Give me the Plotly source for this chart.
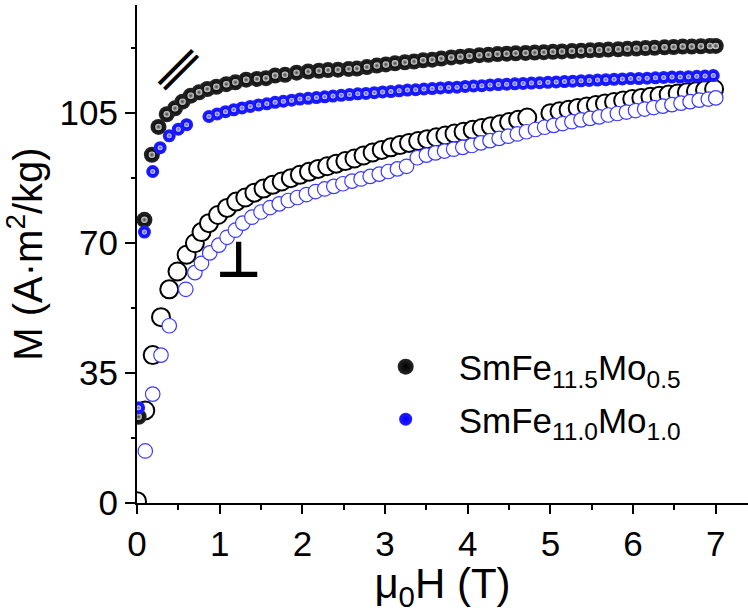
import plotly.graph_objects as go

# ---------------- data ----------------
# parallel field, SmFe11.5Mo0.5 (filled black spheres)
h_par_a = [0.02, 0.09, 0.18, 0.26, 0.36, 0.46, 0.55, 0.65, 0.75, 0.85,
           0.96, 1.08, 1.19, 1.32, 1.45, 1.56, 1.67, 1.79, 1.93, 2.07,
           2.2, 2.31, 2.43, 2.56, 2.66, 2.78, 2.9, 3.01, 3.12, 3.24,
           3.35, 3.46, 3.57, 3.68, 3.8, 3.91, 4.02, 4.14, 4.25, 4.36,
           4.47, 4.58, 4.7, 4.81, 4.92, 5.03, 5.14, 5.26, 5.37, 5.48,
           5.59, 5.7, 5.82, 5.93, 6.04, 6.15, 6.26, 6.38, 6.49, 6.6,
           6.71, 6.82, 6.93, 7.0]
m_par_a = [23.2, 76.2, 93.7, 101.2, 104.6, 106.2, 108.0, 109.6, 110.5, 111.4,
           112.0, 112.7, 113.2, 113.9, 114.1, 114.3, 115.0, 115.2, 115.8, 116.1,
           116.3, 116.5, 116.6, 116.8, 116.9, 117.3, 117.7, 118.0, 118.3, 118.6,
           118.8, 119.1, 119.3, 119.6, 119.9, 120.1, 120.3, 120.5, 120.6, 120.8,
           120.9, 121.0, 121.1, 121.2, 121.3, 121.4, 121.5, 121.6, 121.7, 121.8,
           121.9, 122.0, 122.1, 122.2, 122.3, 122.4, 122.5, 122.6, 122.7, 122.8,
           122.8, 122.9, 123.0, 123.0]

# parallel field, SmFe11.0Mo1.0 (filled blue spheres)
h_par_b = [0.02, 0.09, 0.19, 0.28, 0.39, 0.5, 0.6,
           0.87, 0.97, 1.07, 1.17, 1.27, 1.37, 1.47, 1.57, 1.67, 1.77,
           1.87, 1.97, 2.07, 2.17, 2.27, 2.37, 2.47, 2.57, 2.67, 2.77,
           2.87, 2.97, 3.07, 3.17, 3.27, 3.37, 3.47, 3.57, 3.67, 3.77,
           3.87, 3.97, 4.07, 4.17, 4.27, 4.37, 4.47, 4.57, 4.67, 4.77,
           4.87, 4.97, 5.07, 5.17, 5.27, 5.37, 5.47, 5.57, 5.67, 5.77,
           5.87, 5.97, 6.07, 6.17, 6.27, 6.37, 6.47, 6.57, 6.67, 6.77,
           6.87, 6.97]
m_par_b = [25.6, 72.9, 89.2, 95.6, 98.8, 100.6, 101.8,
           104.0, 104.7, 105.3, 105.8, 106.3, 106.7, 107.1, 107.4, 107.8, 108.1,
           108.4, 108.7, 108.9, 109.1, 109.3, 109.5, 109.7, 109.9, 110.1, 110.2,
           110.4, 110.6, 110.7, 110.9, 111.1, 111.2, 111.4, 111.5, 111.7, 111.8,
           111.9, 112.1, 112.2, 112.3, 112.5, 112.6, 112.7, 112.8, 112.9, 113.0,
           113.1, 113.2, 113.3, 113.4, 113.5, 113.6, 113.7, 113.8, 113.9, 114.0,
           114.1, 114.2, 114.2, 114.3, 114.4, 114.5, 114.6, 114.6, 114.7, 114.8,
           114.9, 115.0]

# perpendicular field, SmFe11.5Mo0.5 (open black circles)
h_perp_a = [0.0, 0.1, 0.19, 0.29, 0.39, 0.49, 0.6, 0.7, 0.78, 0.87,
            0.98, 1.09, 1.2, 1.31, 1.42, 1.53, 1.64, 1.75, 1.86, 1.97,
            2.08, 2.19, 2.3, 2.41, 2.52, 2.63, 2.74, 2.85, 2.96, 3.07,
            3.18, 3.29, 3.4, 3.51, 3.62, 3.73, 3.84, 3.95, 4.06, 4.17,
            4.28, 4.39, 4.5, 4.61, 4.72,
            5.0, 5.11, 5.22, 5.33, 5.44, 5.55, 5.66, 5.77, 5.88, 5.99,
            6.1, 6.21, 6.32, 6.43, 6.54, 6.65, 6.76, 6.87, 6.98]
m_perp_a = [0.5, 24.9, 39.8, 50.0, 57.5, 62.3, 66.8, 69.9, 72.9, 75.3,
            77.5, 79.4, 81.1, 82.2, 83.5, 84.6, 85.6, 86.5, 87.4, 88.3,
            89.1, 89.9, 90.6, 91.3, 92.0, 92.7, 93.5, 94.3, 95.0, 95.7,
            96.3, 96.9, 97.4, 97.9, 98.4, 98.9, 99.4, 99.9, 100.4, 100.9,
            101.4, 101.9, 102.5, 103.1, 103.7,
            104.9, 105.4, 105.8, 106.3, 106.7, 107.1, 107.5, 107.9, 108.3, 108.7,
            109.0, 109.3, 109.6, 109.9, 110.2, 110.5, 110.8, 111.1, 111.4]

# perpendicular field, SmFe11.0Mo1.0 (open blue circles)
h_perp_b = [0.1, 0.19, 0.29, 0.39, 0.59, 0.7, 0.78, 0.88, 0.99, 1.09,
            1.19, 1.28, 1.39, 1.5, 1.61, 1.72, 1.83, 1.94, 2.05, 2.16,
            2.27, 2.38, 2.49, 2.6, 2.71, 2.82, 2.93, 3.04, 3.15, 3.26,
            3.39, 3.5, 3.61, 3.72, 3.83, 3.94, 4.05, 4.16, 4.27, 4.38,
            4.49, 4.6, 4.71, 4.82, 4.93, 5.04, 5.15, 5.26, 5.37, 5.48,
            5.59, 5.7, 5.81, 5.92, 6.03, 6.14, 6.25, 6.36, 6.47, 6.58,
            6.69, 6.8, 6.91, 7.0]
m_perp_b = [14.0, 29.3, 39.8, 47.7, 57.5, 62.0, 64.5, 67.3, 69.4, 71.5,
            73.4, 75.3, 76.9, 78.3, 79.5, 80.5, 81.4, 82.2, 83.0, 83.8,
            84.5, 85.2, 85.9, 86.6, 87.2, 87.9, 88.5, 89.2, 89.9, 90.6,
            92.9, 93.6, 94.2, 94.7, 95.2, 95.7, 96.2, 96.9, 97.5, 98.1,
            98.7, 99.3, 99.9, 100.5, 101.1, 101.6, 102.1, 102.6, 103.1, 103.5,
            103.9, 104.4, 104.8, 105.2, 105.6, 106.0, 106.4, 106.8, 107.2, 107.6,
            108.0, 108.4, 108.7, 109.0]

name_a = "SmFe<sub>11.5</sub>Mo<sub>0.5</sub>"
name_b = "SmFe<sub>11.0</sub>Mo<sub>1.0</sub>"
x_tickvals = [0, 1, 2, 3, 4, 5, 6, 7]
x_top_tickvals = [0, 0.5, 1, 1.5, 2, 2.5, 3, 3.5, 4, 4.5, 5, 5.5, 6, 6.5, 7]
y_tickvals = [0, 35, 70, 105]
x_range = [0, 7.39]
y_range = [0, 134]

FONT = "Liberation Sans, Arial, sans-serif"

fig = go.Figure()

# open circles (perpendicular)
fig.add_trace(go.Scatter(
    x=h_perp_a, y=m_perp_a, mode="markers", showlegend=False,
    marker=dict(symbol="circle", size=18, color="white",
                line=dict(color="black", width=2)),
    hoverinfo="skip"))
fig.add_trace(go.Scatter(
    x=h_perp_b, y=m_perp_b, mode="markers", showlegend=False,
    marker=dict(symbol="circle", size=14.5, color="white",
                line=dict(color="#3a3aff", width=1.2)),
    hoverinfo="skip"))

# filled spheres (parallel)
fig.add_trace(go.Scatter(
    x=h_par_a, y=m_par_a, mode="markers", name=name_a,
    legendgroup="a",
    marker=dict(symbol="circle", size=16, color="#262626",
                gradient=dict(type="radial", color="black"),
                line=dict(width=0)),
    hoverinfo="skip"))
fig.add_trace(go.Scatter(
    x=h_par_a, y=m_par_a, mode="markers", showlegend=False,
    legendgroup="a",
    marker=dict(symbol="circle", size=6.5, color="#d8d8d8",
                gradient=dict(type="radial", color="#3c3c3c"),
                line=dict(width=0)),
    hoverinfo="skip"))
fig.add_trace(go.Scatter(
    x=h_par_b, y=m_par_b, mode="markers", name=name_b,
    legendgroup="b",
    marker=dict(symbol="circle", size=13, color="#2222ff",
                gradient=dict(type="radial", color="#0000ff"),
                line=dict(width=0)),
    hoverinfo="skip"))
fig.add_trace(go.Scatter(
    x=h_par_b, y=m_par_b, mode="markers", showlegend=False,
    legendgroup="b",
    marker=dict(symbol="circle", size=5, color="#dcdcff",
                gradient=dict(type="radial", color="#4a4aff"),
                line=dict(width=0)),
    hoverinfo="skip"))

fig.update_layout(
    width=748, height=613,
    margin=dict(l=137, r=0, t=5, b=110),
    paper_bgcolor="white", plot_bgcolor="white",
    font=dict(family=FONT, color="black"),
    xaxis=dict(
        range=x_range, tickvals=x_tickvals,
        ticks="outside", ticklen=9, tickwidth=2, tickcolor="black",
        minor=dict(dtick=0.5, tick0=0, ticks="outside", ticklen=5,
                   tickwidth=2, tickcolor="black", showgrid=False),
        showline=True, linewidth=2, linecolor="black",
        showgrid=False, zeroline=False,
        tickfont=dict(size=35, family=FONT),
        title=dict(text="μ<sub>0</sub>H (T)", font=dict(size=42, family=FONT),
                   standoff=4),
    ),
    xaxis2=dict(
        range=x_range, overlaying="x", side="top", anchor="free", position=1,
        tickvals=x_top_tickvals, ticks="inside", ticklen=10, tickwidth=2,
        tickcolor="black", showticklabels=False,
        showline=True, linewidth=2, linecolor="black",
        showgrid=False, zeroline=False,
    ),
    yaxis=dict(
        range=y_range, tickvals=y_tickvals,
        ticks="outside", ticklen=10, tickwidth=2, tickcolor="black",
        minor=dict(dtick=17.5, tick0=0, ticks="outside", ticklen=4,
                   tickwidth=2, tickcolor="black", showgrid=False),
        showline=True, linewidth=2, linecolor="black", mirror=False,
        showgrid=False, zeroline=False,
        tickfont=dict(size=35, family=FONT),
        title=dict(text="M (A·m<sup>2</sup>/kg)", font=dict(size=40, family=FONT),
                   standoff=8),
    ),
    legend=dict(
        x=0.353, y=0.221, xanchor="left", yanchor="middle",
        bgcolor="rgba(0,0,0,0)", borderwidth=0,
        font=dict(size=35, family=FONT, color="black"),
        itemwidth=96, traceorder="grouped", tracegroupgap=4,
    ),
    annotations=[
        dict(x=0.53, y=117.3, xref="x", yref="y", text="∥", showarrow=False,
             textangle=45,
             font=dict(size=48, family="DejaVu Sans", color="black")),
        dict(x=1.23, y=65.5, xref="x", yref="y", text="⊥", showarrow=False,
             font=dict(size=50, family="DejaVu Sans", color="black", weight="bold")),
    ],
)

fig.write_html("out.html")
